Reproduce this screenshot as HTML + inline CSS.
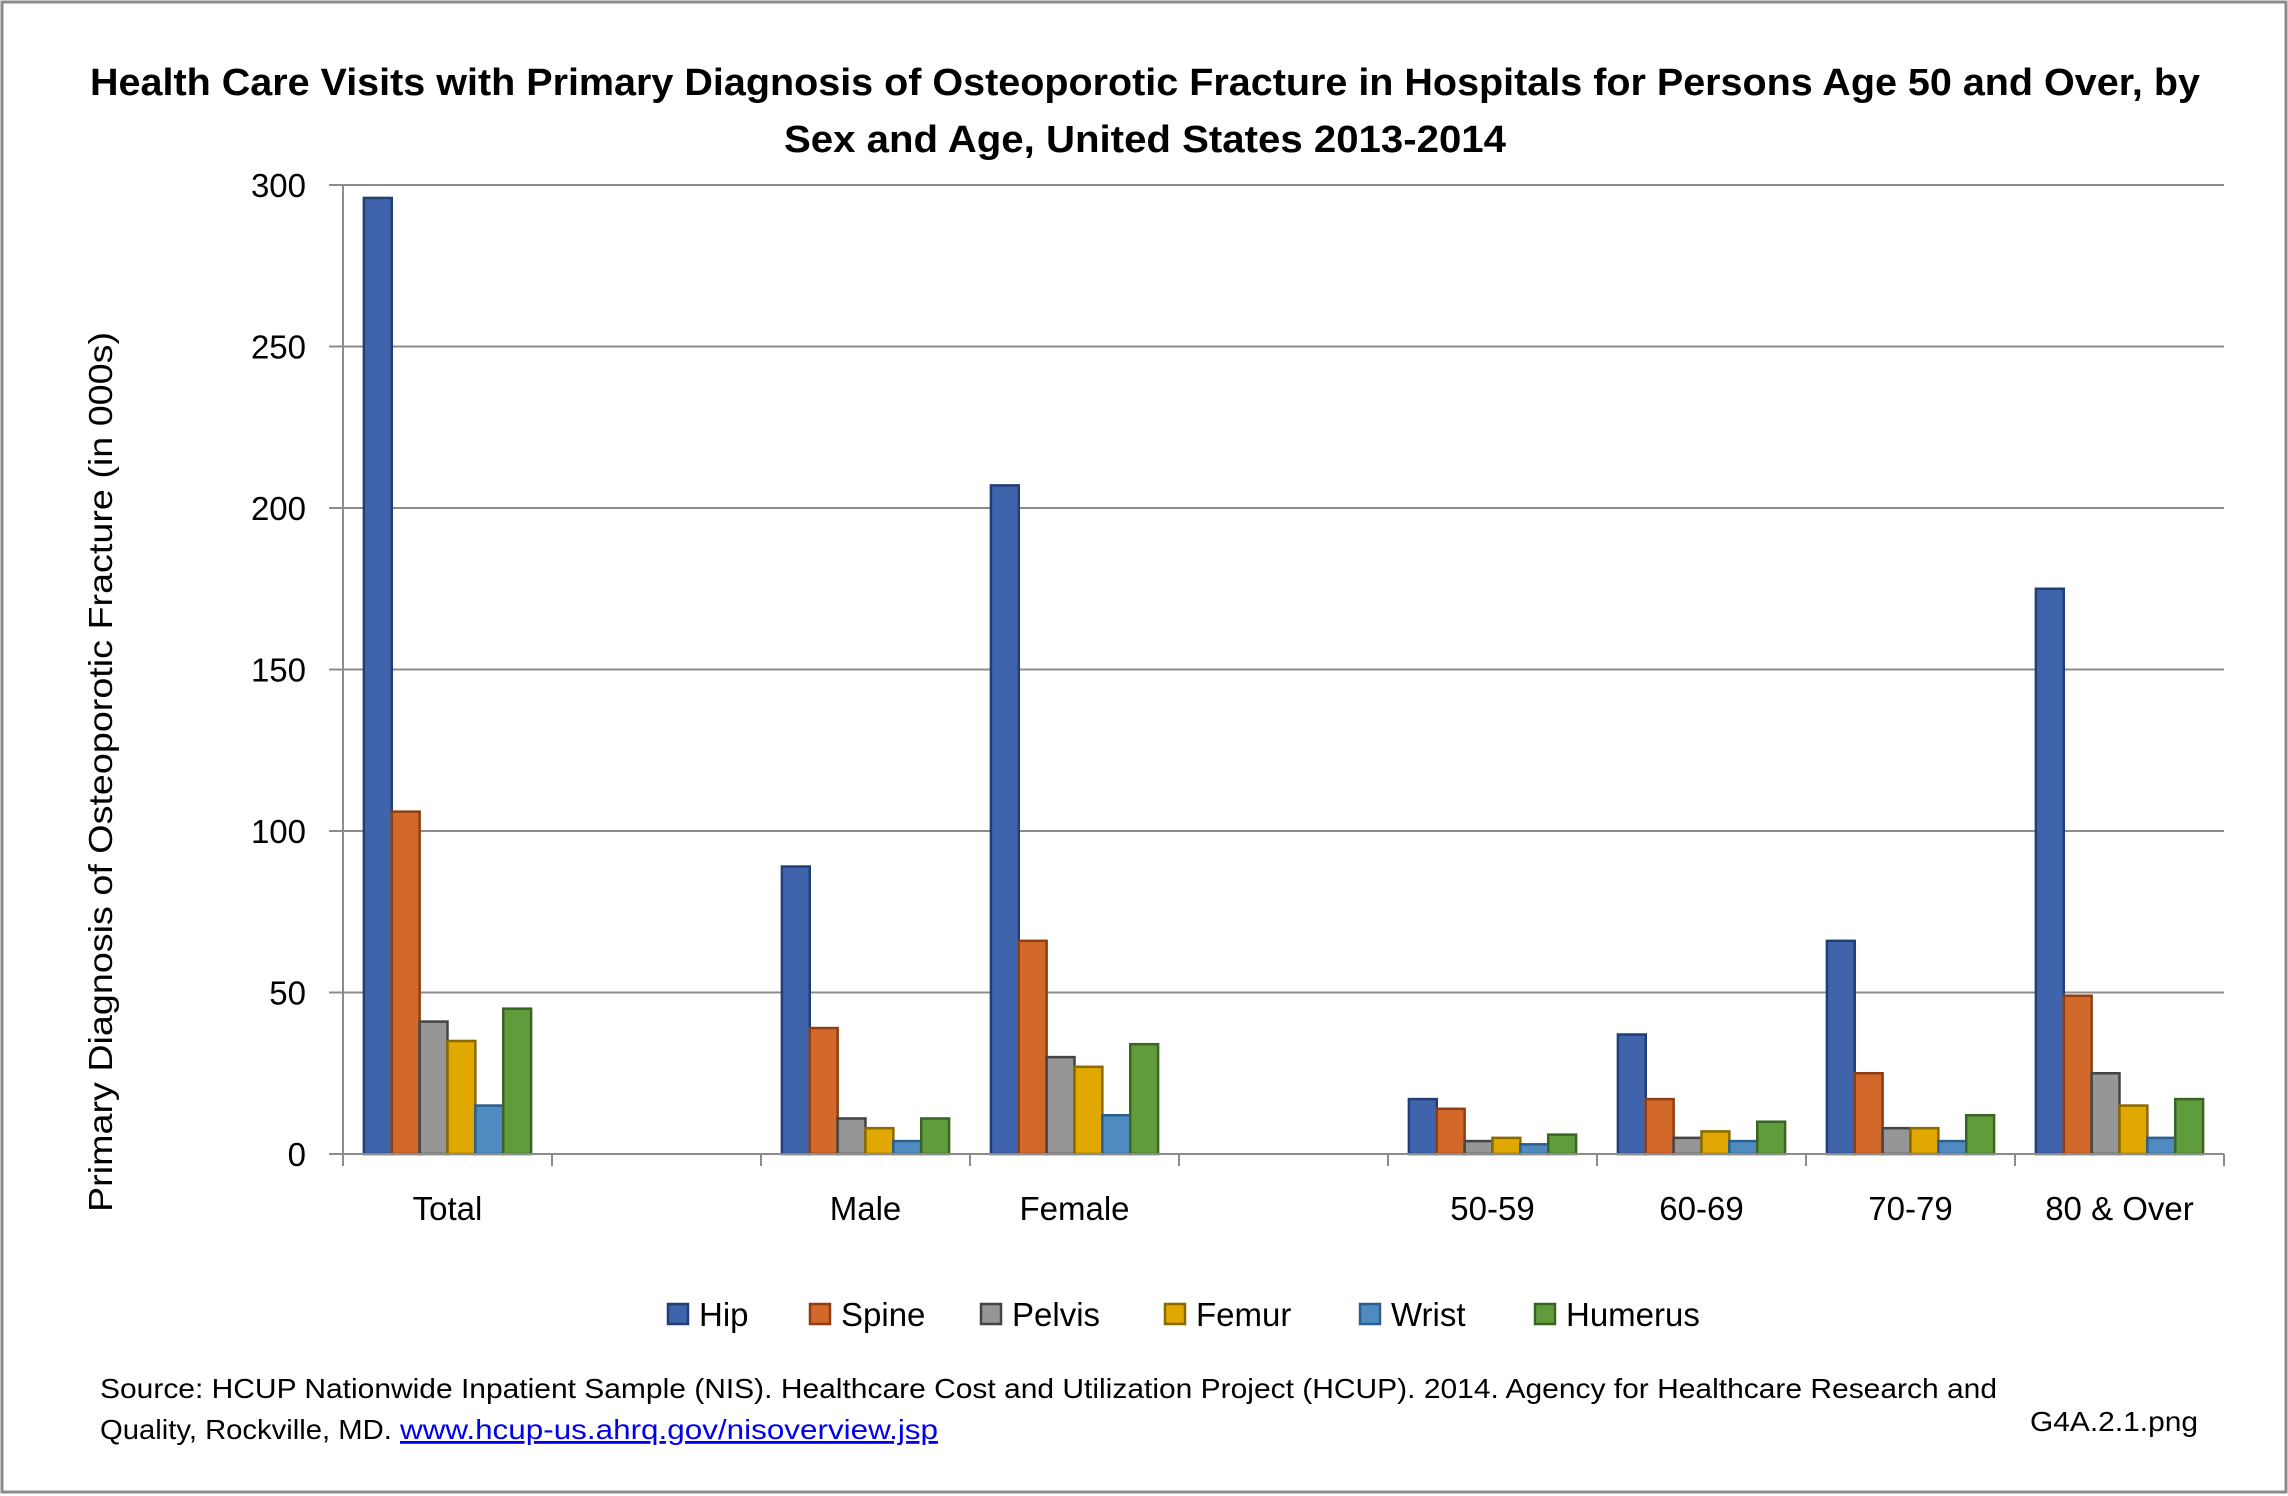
<!DOCTYPE html>
<html><head><meta charset="utf-8"><style>
html,body{margin:0;padding:0;background:#fff}
svg{display:block;font-family:"Liberation Sans",sans-serif}
</style></head><body>
<svg id="chart" width="2288" height="1496" viewBox="0 0 2288 1496" xmlns="http://www.w3.org/2000/svg">
<rect x="2" y="2" width="2284" height="1490" fill="#fff" stroke="#8c8c8c" stroke-width="3"/>
<text x="1145" y="95" text-anchor="middle" font-weight="bold" font-size="38" textLength="2110" lengthAdjust="spacingAndGlyphs">Health Care Visits with Primary Diagnosis of Osteoporotic Fracture in Hospitals for Persons Age 50 and Over, by</text>
<text x="1145" y="152" text-anchor="middle" font-weight="bold" font-size="38" textLength="722" lengthAdjust="spacingAndGlyphs">Sex and Age, United States 2013-2014</text>
<g id="grid"></g>
<g id="bars"></g>
<g id="axes"></g>
<text transform="translate(112,772) rotate(-90)" text-anchor="middle" font-size="33" textLength="880" lengthAdjust="spacingAndGlyphs">Primary Diagnosis of Osteoporotic Fracture (in 000s)</text>
<g id="legend"></g>
<text x="100" y="1398" font-size="28" textLength="1897" lengthAdjust="spacingAndGlyphs">Source: HCUP Nationwide Inpatient Sample (NIS). Healthcare Cost and Utilization Project (HCUP). 2014. Agency for Healthcare Research and</text>
<text x="100" y="1439" font-size="28"><tspan textLength="300" lengthAdjust="spacingAndGlyphs">Quality, Rockville, MD. </tspan><tspan fill="#0000ee" text-decoration="underline" textLength="538" lengthAdjust="spacingAndGlyphs">www.hcup-us.ahrq.gov/nisoverview.jsp</tspan></text>
<text x="2198" y="1431" text-anchor="end" font-size="28" textLength="168" lengthAdjust="spacingAndGlyphs">G4A.2.1.png</text>
</svg>
<script>
const categories = ["Total","","Male","Female","","50-59","60-69","70-79","80 & Over"];
const seriesNames = ["Hip","Spine","Pelvis","Femur","Wrist","Humerus"];
const hip     = [296, 0, 89, 207, 0, 17, 37, 66, 175];
const spine   = [106, 0, 39, 66, 0, 14, 17, 25, 49];
const pelvis  = [41, 0, 11, 30, 0, 4, 5, 8, 25];
const femur   = [35, 0, 8, 27, 0, 5, 7, 8, 15];
const wrist   = [15, 0, 4, 12, 0, 3, 4, 4, 5];
const humerus = [45, 0, 11, 34, 0, 6, 10, 12, 17];
const yTicks  = [0, 50, 100, 150, 200, 250, 300];

const series = [hip, spine, pelvis, femur, wrist, humerus];
const fills = ["#3F64AB","#D2692B","#969696","#E0A800","#4F8BC0","#609B3C"];
const strokes = ["#223f75","#8e3f12","#444444","#8a6a00","#2a5f8f","#3b6424"];
const NS = "http://www.w3.org/2000/svg";
const L = 343, R = 2224, T = 185, B = 1154, YMAX = 300;
const catW = (R - L) / categories.length;
const y = v => B - (v / YMAX) * (B - T);
const xCat = i => L + i * catW;
function mk(tag, attrs, parent) {
  const e = document.createElementNS(NS, tag);
  for (const k in attrs) e.setAttribute(k, attrs[k]);
  parent.appendChild(e);
  return e;
}
const grid = document.getElementById("grid");
const axes = document.getElementById("axes");
const bars = document.getElementById("bars");
const legend = document.getElementById("legend");
yTicks.forEach(t => {
  if (t > 0) {
    const g = mk("line", {x1: L - 14, x2: R, y1: y(t), y2: y(t), stroke: "#8c8c8c", "stroke-width": 2}, grid);
    
    
  }
  const lb = mk("text", {x: 306, y: y(t) + 12, "text-anchor": "end", "font-size": 33}, axes);
  lb.textContent = t;
  
  
});
const groupW = catW * 0.8;
const bw = groupW / series.length;
series.forEach((s, si) => {
  s.forEach((v, ci) => {
    if (!categories[ci]) return;
    const x0 = xCat(ci) + (catW - groupW) / 2 + si * bw;
    const r = mk("rect", {x: x0, y: y(v), width: bw, height: B - y(v), fill: fills[si], stroke: strokes[si], "stroke-width": 2.5}, bars);
    
    
  });
});
const ya = mk("line", {x1: L, x2: L, y1: T, y2: B + 12, stroke: "#8c8c8c", "stroke-width": 2}, axes);


const xa = mk("line", {x1: L - 14, x2: R, y1: B, y2: B, stroke: "#8c8c8c", "stroke-width": 2}, axes);


for (let i = 1; i <= categories.length; i++) {
  const tk = mk("line", {x1: xCat(i), x2: xCat(i), y1: B, y2: B + 12, stroke: "#8c8c8c", "stroke-width": 2}, axes);
  
  
}
categories.forEach((c, i) => {
  if (!c) return;
  const t = mk("text", {x: xCat(i) + catW / 2, y: 1220, "text-anchor": "middle", "font-size": 33}, axes);
  t.textContent = c;
  
  
});
const legX = [668, 810, 981, 1165, 1360, 1535];
seriesNames.forEach((n, i) => {
  const m = mk("rect", {x: legX[i], y: 1304, width: 20, height: 20, fill: fills[i], stroke: strokes[i], "stroke-width": 2.5}, legend);
  
  
  const t = mk("text", {x: legX[i] + 31, y: 1326, "font-size": 33}, legend);
  t.textContent = n;
  
  
});
</script>
</body></html>
